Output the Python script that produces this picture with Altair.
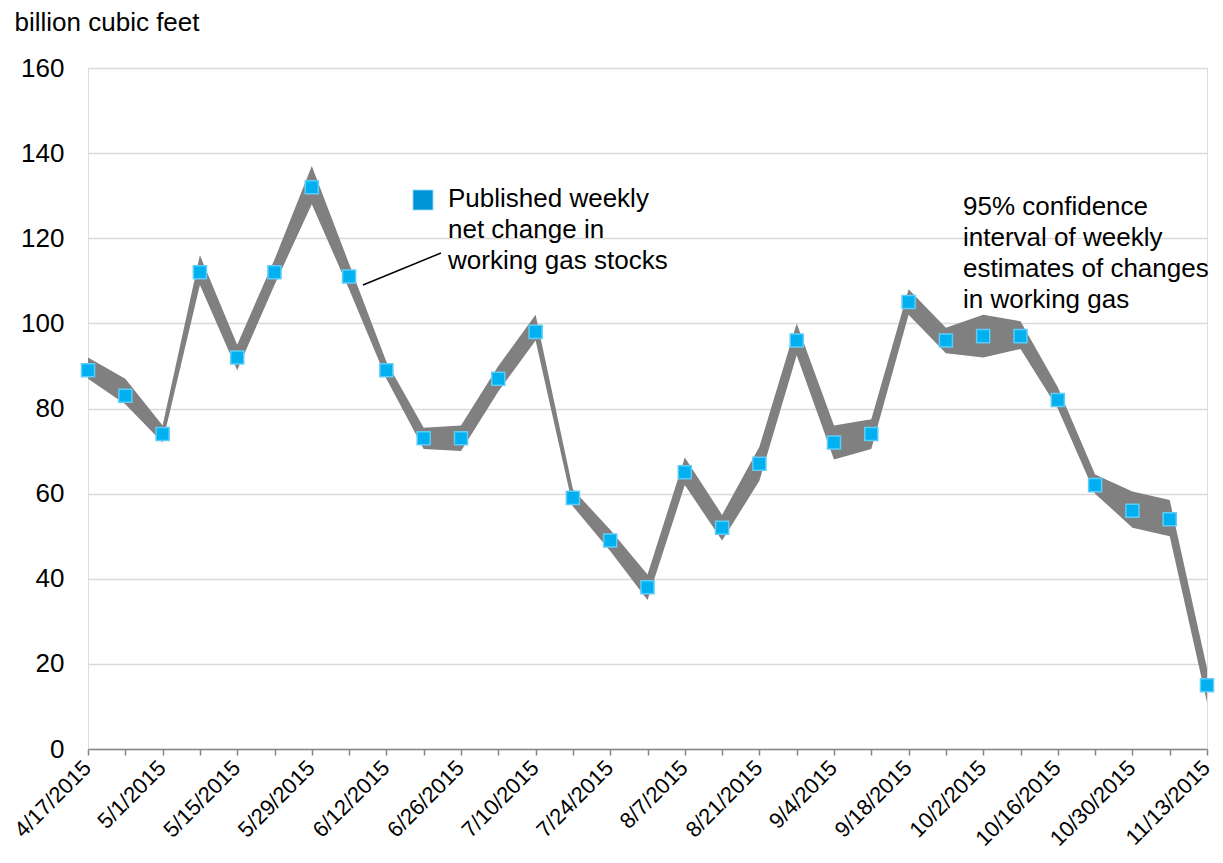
import json
import altair as alt
import pandas as pd

dates = ["4/17/2015", "4/24/2015", "5/1/2015", "5/8/2015", "5/15/2015", "5/22/2015",
         "5/29/2015", "6/5/2015", "6/12/2015", "6/19/2015", "6/26/2015", "7/3/2015",
         "7/10/2015", "7/17/2015", "7/24/2015", "7/31/2015", "8/7/2015", "8/14/2015",
         "8/21/2015", "8/28/2015", "9/4/2015", "9/11/2015", "9/18/2015", "9/25/2015",
         "10/2/2015", "10/9/2015", "10/16/2015", "10/23/2015", "10/30/2015", "11/6/2015",
         "11/13/2015"]
published = [89, 83, 74, 112, 92, 112, 132, 111, 89, 73, 73, 87, 98, 59, 49, 38, 65, 52,
             67, 96, 72, 74, 105, 96, 97, 97, 82, 62, 56, 54, 15]
ci_upper = [92, 87, 76, 116, 95, 115, 137, 114, 91, 75.5, 76, 90, 102, 61, 51.5, 41, 68.5,
            55, 71, 100, 76, 77.5, 108, 99, 102, 100.5, 85, 64.5, 60.5, 58.5, 19]
ci_lower = [87, 81, 72, 109, 89, 109, 128, 108, 87, 70.5, 70, 84, 96, 57, 46.5, 35, 62,
            49, 63, 92.5, 68, 70.5, 102, 93, 92, 94, 80, 60, 52, 50, 11]
y_ticks = [0, 20, 40, 60, 80, 100, 120, 140, 160]
legend_text = ["Published weekly", "net change in", "working gas stocks"]
ci_text = ["95% confidence", "interval of weekly", "estimates of changes", "in working gas"]
y_title = "billion cubic feet"

df = pd.DataFrame({
    "idx": list(range(len(dates))),
    "date": dates,
    "value": published,
    "upper": ci_upper,
    "lower": ci_lower,
})

tick_labels = [d if i % 2 == 0 else "" for i, d in enumerate(dates)]
label_expr = json.dumps(tick_labels) + "[datum.value]"

FONT = "Liberation Sans"

x_axis = alt.Axis(
    values=list(range(len(dates))), labelExpr=label_expr, labelAngle=-45,
    labelAlign="right", labelBaseline="middle", labelFontSize=22, labelFont=FONT,
    labelColor="#000000", labelPadding=9, labelOffset=-1, labelOverlap=False,
    labelFlush=False, grid=False, title=None, domainColor="#868686", domainWidth=1.5,
    tickColor="#868686", tickSize=6, tickWidth=1.5,
)
y_axis = alt.Axis(
    values=y_ticks, grid=True, gridColor="#d9d9d9", gridWidth=1.5, domain=False,
    ticks=False, labelFontSize=26, labelFont=FONT, labelColor="#000000",
    labelPadding=24, title=y_title, titleAngle=0, titleAlign="left",
    titleBaseline="middle", titleX=-74, titleY=-46, titleFont=FONT,
    titleFontSize=26, titleFontWeight="normal", titleColor="#000000",
)

x_enc = alt.X("idx:Q", scale=alt.Scale(domain=[0, len(dates) - 1], nice=False, zero=False),
              axis=x_axis)
y_scale = alt.Scale(domain=[0, 160], nice=False)

band = alt.Chart(df).mark_area(color="#808080", opacity=1).encode(
    x=x_enc,
    y=alt.Y("upper:Q", scale=y_scale, axis=y_axis),
    y2="lower:Q",
)

points = alt.Chart(df).mark_square(
    size=170, fill="#00b0f0", stroke="#5dcdf7", strokeWidth=1.5, opacity=1
).encode(
    x=x_enc,
    y=alt.Y("value:Q", scale=y_scale, axis=y_axis),
)

ann = pd.DataFrame({"k": [0]})

legend_sq = alt.Chart(ann).mark_square(
    size=380, fill="#0096d6", stroke="#3fb4ea", strokeWidth=1, opacity=1
).encode(x=alt.value(335), y=alt.value(132))

legend_lbl = alt.Chart(ann).mark_text(
    text=legend_text, align="left", baseline="top", font=FONT, fontSize=26,
    lineHeight=31, color="#000000"
).encode(x=alt.value(360), y=alt.value(118))

leader = alt.Chart(ann).mark_rule(color="#000000", strokeWidth=1.5).encode(
    x=alt.value(275), y=alt.value(217), x2=alt.value(353), y2=alt.value(185)
)

ci_lbl = alt.Chart(ann).mark_text(
    text=ci_text, align="left", baseline="top", font=FONT, fontSize=26,
    lineHeight=31, color="#000000"
).encode(x=alt.value(875), y=alt.value(126))

chart = alt.layer(band, points, legend_sq, legend_lbl, leader, ci_lbl).properties(
    width=1119, height=681,
    autosize=alt.AutoSizeParams(type="none"),
    padding={"left": 80, "top": 60, "right": 8, "bottom": 106},
).configure_view(stroke=None).configure(background="white")

chart.save("out.html", embed_options={"renderer": "svg", "actions": False})
